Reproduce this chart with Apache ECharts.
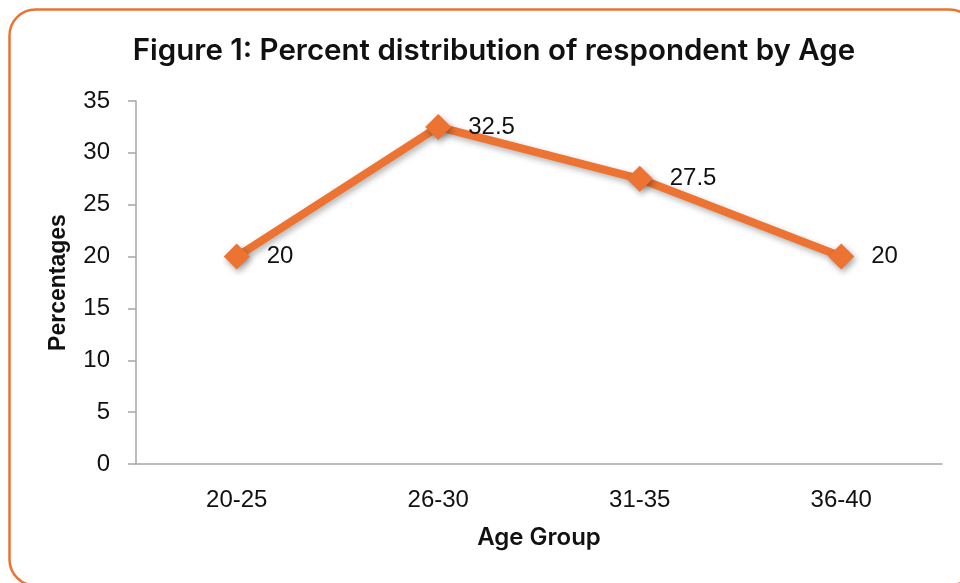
<!DOCTYPE html>
<html>
<head>
<meta charset="utf-8">
<style>
  html, body { margin: 0; padding: 0; background: #fff; }
  #chart { width: 960px; height: 583px; }
</style>
<script src="https://cdn.jsdelivr.net/npm/echarts@6/dist/echarts.min.js"></script>
</head>
<body>
<div id="chart"></div>
<script>
// Age groups and the share of respondents in each (percent)
const ageGroups = ['20-25', '26-30', '31-35', '36-40'];
const percentages = [20, 32.5, 27.5, 20];
const yTicks = { min: 0, max: 35, interval: 5 };

const orange = '#EC7332';
const chart = echarts.init(document.getElementById('chart'), null, { renderer: 'canvas' });

chart.setOption({
  animation: false,
  backgroundColor: '#fff',
  title: {
    text: 'Figure 1: Percent distribution of respondent by Age',
    left: 489,
    textAlign: 'center',
    top: 31,
    textStyle: {
      fontFamily: 'Inter',
      fontWeight: 600,
      fontSize: 29.5,
      color: '#111'
    }
  },
  graphic: [{
    type: 'rect',
    silent: true,
    shape: { x: 9.5, y: 9.5, width: 966, height: 576, r: 26 },
    style: { fill: 'none', stroke: orange, lineWidth: 2.5 }
  }],
  grid: { left: 136, right: 18, top: 101, bottom: 119 },
  xAxis: {
    type: 'category',
    data: ageGroups,
    boundaryGap: true,
    name: 'Age Group',
    nameLocation: 'middle',
    nameGap: 62,
    nameTextStyle: { fontFamily: 'Inter', fontWeight: 600, fontSize: 24, color: '#111' },
    axisLine: { lineStyle: { color: '#a6a6a6', width: 1.5 } },
    axisTick: { show: false },
    axisLabel: { margin: 24, fontFamily: 'Liberation Sans', fontSize: 24, color: '#111' }
  },
  yAxis: {
    type: 'value',
    min: yTicks.min,
    max: yTicks.max,
    interval: yTicks.interval,
    name: 'Percentages',
    nameLocation: 'middle',
    nameGap: 66,
    nameTextStyle: { fontFamily: 'Liberation Sans', fontWeight: 'bold', fontSize: 23, color: '#111' },
    axisLine: { show: true, lineStyle: { color: '#a6a6a6', width: 1.5 } },
    axisTick: { show: true, length: 8, lineStyle: { color: '#a6a6a6', width: 1.5 } },
    splitLine: { show: false },
    axisLabel: { margin: 26, fontFamily: 'Liberation Sans', fontSize: 24, color: '#111' }
  },
  series: [{
    type: 'line',
    data: percentages,
    symbol: 'diamond',
    symbolSize: 26,
    lineStyle: {
      color: orange, width: 8,
      shadowColor: 'rgba(0,0,0,0.3)', shadowBlur: 6, shadowOffsetX: 2, shadowOffsetY: 3
    },
    itemStyle: {
      color: orange,
      shadowColor: 'rgba(0,0,0,0.35)', shadowBlur: 6, shadowOffsetX: 2, shadowOffsetY: 3
    },
    label: {
      show: true,
      position: 'right',
      distance: 17,
      fontFamily: 'Liberation Sans',
      fontSize: 24,
      color: '#111'
    }
  }]
});
</script>
</body>
</html>
